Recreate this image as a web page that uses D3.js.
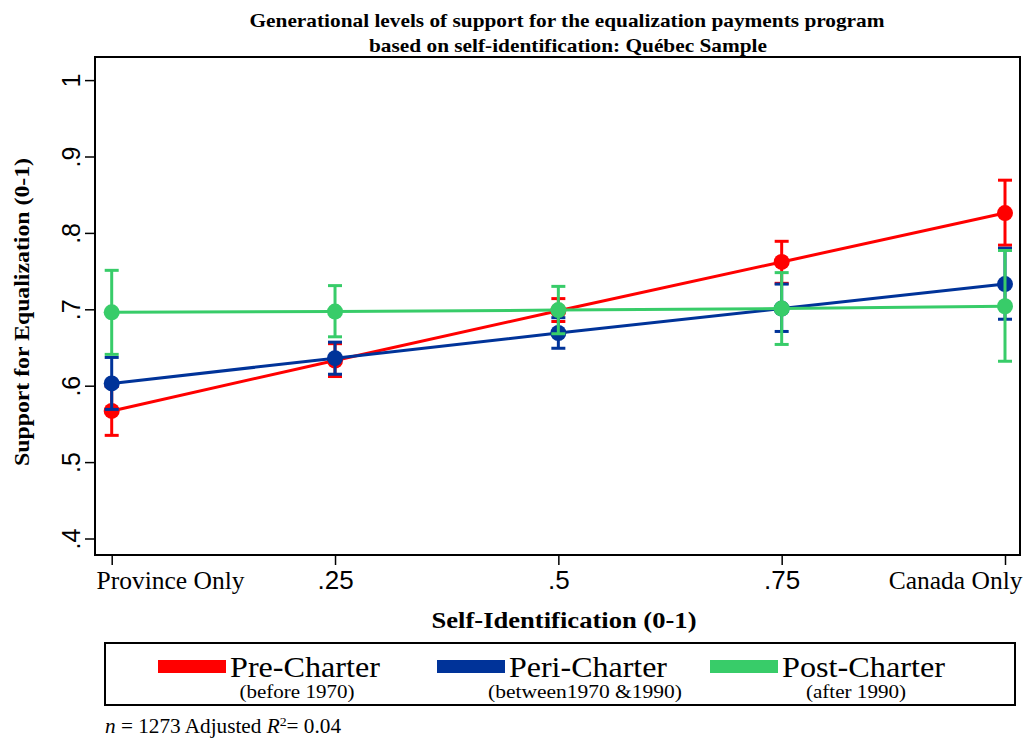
<!DOCTYPE html>
<html>
<head>
<meta charset="utf-8">
<script src="https://cdn.jsdelivr.net/npm/d3@7"></script>
<style>
  html, body { margin: 0; padding: 0; background: #fff; }
  svg { display: block; }
</style>
</head>
<body>
<svg id="chart" width="1024" height="738"></svg>
<script>
// Self-identification positions (0 = province only, 1 = Canada only)
const xValues = [0, 0.25, 0.5, 0.75, 1];
const xTickLabels = ["Province Only", ".25", ".5", ".75", "Canada Only"];
const yTicks = [0.4, 0.5, 0.6, 0.7, 0.8, 0.9, 1];
const yTickLabels = [".4", ".5", ".6", ".7", ".8", ".9", "1"];

// Predicted support by generation, with 95% confidence bounds
const preMean  = [0.567, 0.633, 0.698, 0.762, 0.826];
const preLow   = [0.535, 0.612, 0.684, 0.734, 0.784];
const preHigh  = [0.599, 0.655, 0.714, 0.789, 0.869];

const periMean = [0.603, 0.636, 0.669, 0.701, 0.733];
const periLow  = [0.569, 0.615, 0.649, 0.671, 0.687];
const periHigh = [0.637, 0.657, 0.689, 0.733, 0.780];

const postMean = [0.696, 0.697, 0.699, 0.701, 0.704];
const postLow  = [0.641, 0.664, 0.668, 0.654, 0.632];
const postHigh = [0.751, 0.731, 0.730, 0.748, 0.777];

const seriesNames = ["Pre-Charter", "Peri-Charter", "Post-Charter"];
const seriesNotes = ["(before 1970)", "(between1970 &1990)", "(after 1990)"];
const seriesColors = ["#ff0000", "#003399", "#38cc69"];

const series = [
  { mean: preMean, low: preLow, high: preHigh },
  { mean: periMean, low: periLow, high: periHigh },
  { mean: postMean, low: postLow, high: postHigh }
].map((s, i) => ({ ...s, name: seriesNames[i], note: seriesNotes[i], color: seriesColors[i] }));

const svg = d3.select("#chart");
const serif = "'Liberation Serif', 'Times New Roman', serif";
const sans = "'Liberation Sans', Arial, Helvetica, sans-serif";

// Plot frame
const frame = { left: 95, right: 1020, top: 57, bottom: 555 };
const x = d3.scaleLinear().domain([0, 1]).range([111.7, 1005]);
const y = d3.scaleLinear().domain([0.4, 1]).range([538.5, 80.1]);

// Title (two lines, condensed bold serif)
svg.append("text")
  .attr("x", 567).attr("y", 27)
  .attr("text-anchor", "middle")
  .attr("font-family", serif).attr("font-weight", "bold").attr("font-size", 19)
  .attr("textLength", 635).attr("lengthAdjust", "spacingAndGlyphs")
  .text("Generational levels of support for the equalization payments program");
svg.append("text")
  .attr("x", 568).attr("y", 52)
  .attr("text-anchor", "middle")
  .attr("font-family", serif).attr("font-weight", "bold").attr("font-size", 19)
  .attr("textLength", 398).attr("lengthAdjust", "spacingAndGlyphs")
  .text("based on self-identification: Québec Sample");

// Frame box
svg.append("rect")
  .attr("x", frame.left).attr("y", frame.top)
  .attr("width", frame.right - frame.left).attr("height", frame.bottom - frame.top)
  .attr("fill", "none").attr("stroke", "#000").attr("stroke-width", 2);

// Y axis (rotated tick labels)
const yAxis = d3.axisLeft(y).tickValues(yTicks).tickSize(10).tickFormat((d, i) => yTickLabels[i]);
const gy = svg.append("g").attr("transform", `translate(${frame.left},0)`).call(yAxis);
gy.select(".domain").remove();
gy.selectAll(".tick line").attr("stroke", "#000").attr("stroke-width", 1.5);
gy.selectAll(".tick text")
  .attr("font-family", sans).attr("font-size", 25).attr("fill", "#000")
  .attr("x", null)
  .attr("text-anchor", "middle")
  .attr("transform", "translate(-24,0) rotate(-90)")
  .attr("dy", "0.35em");

// X axis: end labels hug the frame edges, middle labels centre on ticks
const xAxis = d3.axisBottom(x).tickValues(xValues).tickSize(10).tickFormat((d, i) => xTickLabels[i]);
const gx = svg.append("g").attr("transform", `translate(0,${frame.bottom})`).call(xAxis);
gx.select(".domain").remove();
gx.selectAll(".tick line").attr("stroke", "#000").attr("stroke-width", 1.5);
const last = xValues.length - 1;
gx.selectAll(".tick text")
  .attr("fill", "#000")
  .attr("y", 34).attr("dy", null)
  .attr("font-size", (d, i) => (i === 0 || i === last) ? 25.5 : 26)
  .attr("font-family", (d, i) => (i === 0 || i === last) ? serif : sans)
  .attr("text-anchor", (d, i) => i === 0 ? "start" : i === last ? "end" : "middle")
  .attr("x", (d, i) => i === 0 ? frame.left + 1 - x(d) : i === last ? 1022 - x(d) : 0);

// Axis titles
svg.append("text")
  .attr("x", 564).attr("y", 628)
  .attr("text-anchor", "middle")
  .attr("font-family", serif).attr("font-weight", "bold").attr("font-size", 23)
  .attr("textLength", 265).attr("lengthAdjust", "spacingAndGlyphs")
  .text("Self-Identification (0-1)");
svg.append("text")
  .attr("transform", "translate(29,312) rotate(-90)")
  .attr("text-anchor", "middle")
  .attr("font-family", serif).attr("font-weight", "bold").attr("font-size", 21)
  .attr("textLength", 308).attr("lengthAdjust", "spacingAndGlyphs")
  .text("Support for Equalization (0-1)");

// Series: confidence bars, connecting line, point markers
const capHalf = 7;
series.forEach(s => {
  const g = svg.append("g");
  const rows = xValues.map((xv, i) => ({ x: xv, m: s.mean[i], lo: s.low[i], hi: s.high[i] }));

  g.selectAll("line.bar").data(rows).join("line")
    .attr("x1", d => x(d.x)).attr("x2", d => x(d.x))
    .attr("y1", d => y(d.lo)).attr("y2", d => y(d.hi))
    .attr("stroke", s.color).attr("stroke-width", 3);
  ["lo", "hi"].forEach(k => {
    g.selectAll("line.cap-" + k).data(rows).join("line")
      .attr("x1", d => x(d.x) - capHalf).attr("x2", d => x(d.x) + capHalf)
      .attr("y1", d => y(d[k])).attr("y2", d => y(d[k]))
      .attr("stroke", s.color).attr("stroke-width", 3);
  });

  g.append("path").datum(rows)
    .attr("fill", "none").attr("stroke", s.color).attr("stroke-width", 3)
    .attr("d", d3.line().x(d => x(d.x)).y(d => y(d.m)));

  g.selectAll("circle").data(rows).join("circle")
    .attr("cx", d => x(d.x)).attr("cy", d => y(d.m)).attr("r", 8)
    .attr("fill", s.color);
});

// Legend
const legend = svg.append("g");
legend.append("rect")
  .attr("x", 105).attr("y", 643).attr("width", 910).attr("height", 62)
  .attr("fill", "#fff").attr("stroke", "#000").attr("stroke-width", 2);
const legendX = [158, 437, 710];
const labelWidths = [150, 158, 163];
const noteCenters = [297, 585, 856];
const noteWidths = [115, 194, 100];
series.forEach((s, i) => {
  const lx = legendX[i];
  legend.append("rect")
    .attr("x", lx).attr("y", 660).attr("width", 68).attr("height", 13)
    .attr("fill", s.color);
  legend.append("text")
    .attr("x", lx + 72).attr("y", 677)
    .attr("font-family", serif).attr("font-size", 29)
    .attr("textLength", labelWidths[i]).attr("lengthAdjust", "spacingAndGlyphs")
    .text(s.name);
  legend.append("text")
    .attr("x", noteCenters[i]).attr("y", 698)
    .attr("text-anchor", "middle")
    .attr("font-family", serif).attr("font-size", 18)
    .attr("textLength", noteWidths[i]).attr("lengthAdjust", "spacingAndGlyphs")
    .text(s.note);
});

// Model note
const note = svg.append("text")
  .attr("x", 105).attr("y", 733)
  .attr("font-family", serif).attr("font-size", 20)
  .attr("textLength", 236).attr("lengthAdjust", "spacingAndGlyphs");
note.append("tspan").attr("font-style", "italic").text("n");
note.append("tspan").text(" = 1273 Adjusted ");
note.append("tspan").attr("font-style", "italic").text("R");
note.append("tspan").attr("font-size", 13).attr("dy", -7).text("2");
note.append("tspan").attr("dy", 7).text("= 0.04");
</script>
</body>
</html>
